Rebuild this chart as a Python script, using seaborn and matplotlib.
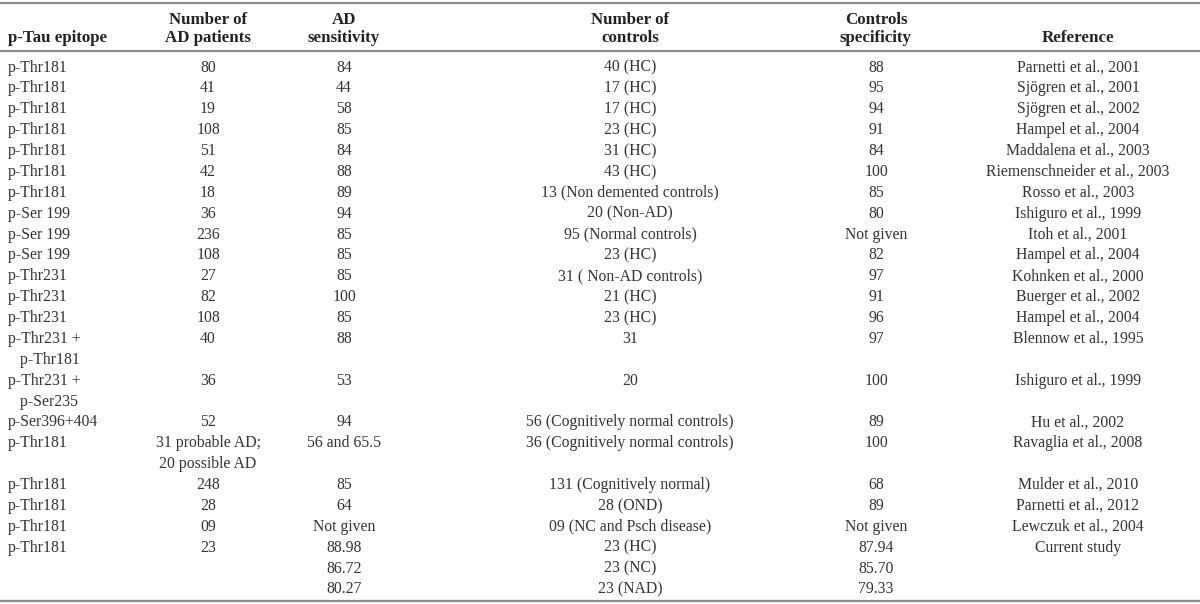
import matplotlib
matplotlib.use("Agg")
import matplotlib.pyplot as plt
import seaborn as sns

sns.set_theme(style="white")
plt.rcParams['font.family'] = ['Liberation Serif', 'DejaVu Serif']

# table data
headers = ["p-Tau epitope", "Number of\nAD patients", "AD\nsensitivity",
           "Number of\ncontrols", "Controls\nspecificity", "Reference"]
epitope = ["p-Thr181", "p-Thr181", "p-Thr181", "p-Thr181", "p-Thr181", "p-Thr181",
           "p-Thr181", "p-Ser 199", "p-Ser 199", "p-Ser 199", "p-Thr231", "p-Thr231",
           "p-Thr231", "p-Thr231 +\n   p-Thr181", "p-Thr231 +\n   p-Ser235", "p-Ser396+404",
           "p-Thr181", "p-Thr181", "p-Thr181", "p-Thr181", "p-Thr181"]
n_ad = ["80", "41", "19", "108", "51", "42", "18", "36", "236", "108", "27", "82",
        "108", "40", "36", "52", "31 probable AD;\n20 possible AD", "248", "28", "09", "23"]
sensitivity = ["84", "44", "58", "85", "84", "88", "89", "94", "85", "85", "85", "100",
               "85", "88", "53", "94", "56 and 65.5", "85", "64", "Not given",
               "88.98\n86.72\n80.27"]
n_controls = ["40 (HC)", "17 (HC)", "17 (HC)", "23 (HC)", "31 (HC)", "43 (HC)",
              "13 (Non demented controls)", "20 (Non-AD)", "95 (Normal controls)", "23 (HC)",
              "31 ( Non-AD controls)", "21 (HC)", "23 (HC)", "31", "20",
              "56 (Cognitively normal controls)", "36 (Cognitively normal controls)",
              "131 (Cognitively normal)", "28 (OND)", "09 (NC and Psch disease)",
              "23 (HC)\n23 (NC)\n23 (NAD)"]
specificity = ["88", "95", "94", "91", "84", "100", "85", "80", "Not given", "82", "97",
               "91", "96", "97", "100", "89", "100", "68", "89", "Not given",
               "87.94\n85.70\n79.33"]
reference = ["Parnetti et al., 2001", "Sjögren et al., 2001", "Sjögren et al., 2002",
             "Hampel et al., 2004", "Maddalena et al., 2003", "Riemenschneider et al., 2003",
             "Rosso et al., 2003", "Ishiguro et al., 1999", "Itoh et al., 2001",
             "Hampel et al., 2004", "Kohnken et al., 2000", "Buerger et al., 2002",
             "Hampel et al., 2004", "Blennow et al., 1995", "Ishiguro et al., 1999",
             "Hu et al., 2002", "Ravaglia et al., 2008", "Mulder et al., 2010",
             "Parnetti et al., 2012", "Lewczuk et al., 2004", "Current study"]

columns = [epitope, n_ad, sensitivity, n_controls, specificity, reference]
col_x = [8, 208, 344, 630, 876, 1078]
col_ha = ["left", "center", "center", "center", "center", "center"]

fig = plt.figure(figsize=(12, 6.04), dpi=100)
ax = fig.add_axes([0, 0, 1, 1])
ax.set_xlim(0, 1200)
ax.set_ylim(604, 0)
ax.axis("off")

fs = 11.3
line_h = 20.88
txt_col = "#333333"

# header
for x, ha, h in zip(col_x, col_ha, headers):
    ax.text(x, 42, h, ha=ha, va="baseline", fontsize=12.2, fontweight="bold",
            color="#222222", linespacing=1.2, multialignment="center")

# rows
y = 66
for i in range(len(epitope)):
    nlines = max(c[i].count("\n") + 1 for c in columns)
    for c, x, ha in zip(columns, col_x, col_ha):
        for k, part in enumerate(c[i].split("\n")):
            ax.text(x, y + k * line_h + 5.5, part, ha=ha, va="baseline",
                    fontsize=fs, color=txt_col)
    y += nlines * line_h

for yy in [2.5, 51, 601]:
    ax.axhline(yy, color="#8c8c8c", lw=1.6)

fig.savefig("out.png", dpi=100)
